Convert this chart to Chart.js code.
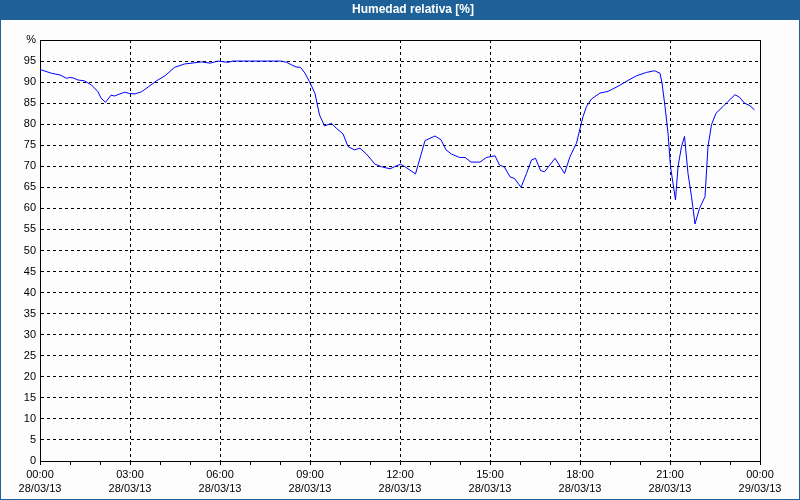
<!DOCTYPE html>
<html>
<head>
<meta charset="utf-8">
<script src="https://cdn.jsdelivr.net/npm/chart.js@4/dist/chart.umd.min.js"></script>
<style>
  html, body { margin: 0; padding: 0; background: #fcfdfc; }
  #wrap { position: relative; width: 800px; height: 500px; }
  canvas { display: block; }
</style>
</head>
<body>
<div id="wrap"><canvas id="c" width="800" height="500"></canvas></div>
<script>
// ---- data ----
const chartTitle = 'Humedad relativa [%]';
const times = ['00:00','00:23','00:40','00:53','00:59','01:06','01:16','01:29','01:43','01:56',
  '02:02','02:11','02:22','02:29','02:40','02:49','02:59','03:10','03:23','03:36',
  '03:53','04:10','04:29','04:49','05:10','05:23','05:40','05:56','06:16','06:26',
  '08:02','08:13','08:23','08:32','08:41','08:50','08:59','09:10','09:14','09:19',
  '09:29','09:43','09:53','10:06','10:16','10:29','10:40','10:53','11:10','11:23',
  '11:40','11:49','12:01','12:10','12:31','12:50','13:10','13:22','13:32','13:43',
  '13:59','14:10','14:22','14:40','14:53','15:10','15:19','15:29','15:40','15:49',
  '16:02','16:13','16:23','16:31','16:41','16:49','17:10','17:29','17:40','17:53',
  '18:02','18:06','18:13','18:23','18:40','18:56','19:16','19:36','19:53','20:13',
  '20:29','20:40','20:44','20:50','20:56','21:01','21:06','21:11','21:16','21:23',
  '21:29','21:36','21:43','21:50','21:59','22:10','22:16','22:23','22:32','22:46',
  '22:56','23:10','23:19','23:29','23:40','23:49'];
const humidity = [93.0,92.1,91.7,90.9,91.1,91.0,90.5,90.3,89.3,87.7,
  86.2,85.2,86.9,86.7,87.2,87.6,87.3,87.2,87.7,88.8,
  90.3,91.5,93.5,94.3,94.6,94.8,94.5,95.0,94.7,95.0,
  95.0,94.7,94.1,93.6,93.5,92.1,90.1,87.3,85.0,82.2,
  79.6,80.2,79.0,77.7,74.7,73.9,74.3,72.9,70.5,69.9,
  69.4,69.9,70.5,69.9,68.2,76.1,77.2,76.3,73.9,72.9,
  72.1,72.1,71.0,71.0,72.1,72.5,70.3,69.8,67.5,67.1,
  65.0,68.3,71.5,71.9,69.0,68.7,71.9,68.3,72.3,75.5,
  79.9,81.8,84.2,86.0,87.4,87.8,89.0,90.4,91.5,92.3,
  92.7,92.1,89.8,84.2,77.9,69.9,66.0,62.0,69.9,74.7,
  77.1,68.3,62.8,56.3,60.0,62.8,74.7,79.9,82.6,84.2,
  85.4,87.0,86.4,85.0,84.4,83.4];
const xTickTimes = ['00:00','03:00','06:00','09:00','12:00','15:00','18:00','21:00','00:00'];
const xTickDates = ['28/03/13','28/03/13','28/03/13','28/03/13','28/03/13','28/03/13','28/03/13','28/03/13','29/03/13'];
const yUnitLabel = '%';

// ---- build ----
const toHours = s => { const p = s.split(':'); return +p[0] + (+p[1]) / 60; };
const points = times.map((t, i) => ({ x: toHours(t), y: humidity[i] }));

const BLUE = '#1d6198';
const BG = '#fcfdfc';
const FONT = '"Liberation Sans", Arial, sans-serif';

const framePlugin = {
  id: 'frame',
  beforeDraw(chart) {
    const ctx = chart.ctx;
    ctx.save();
    ctx.fillStyle = BG;
    ctx.fillRect(0, 0, chart.width, chart.height);
    ctx.fillStyle = BLUE;
    ctx.fillRect(0, 0, chart.width, 20);
    ctx.fillRect(0, 0, 1, chart.height);
    ctx.fillRect(chart.width - 1, 0, 1, chart.height);
    ctx.fillRect(0, chart.height - 1, chart.width, 1);
    ctx.restore();
  },
  afterDraw(chart) {
    const a = chart.chartArea;
    const ctx = chart.ctx;
    ctx.save();
    ctx.strokeStyle = '#000';
    ctx.lineWidth = 1;
    ctx.beginPath();
    ctx.moveTo(Math.round(a.left), Math.round(a.top) + 0.5);
    ctx.lineTo(Math.round(a.right) + 1, Math.round(a.top) + 0.5);
    ctx.stroke();
    ctx.restore();
  }
};

new Chart(document.getElementById('c'), {
  type: 'line',
  data: {
    datasets: [{
      label: chartTitle,
      data: points,
      borderColor: '#0000ff',
      borderWidth: 1,
      pointRadius: 0,
      tension: 0,
      fill: false
    }]
  },
  plugins: [framePlugin],
  options: {
    responsive: false,
    animation: false,
    layout: { padding: { left: 0, right: -26, top: 0, bottom: 0 } },
    plugins: {
      legend: { display: false },
      tooltip: { enabled: false },
      title: {
        display: true,
        text: chartTitle,
        color: '#ffffff',
        font: { family: FONT, size: 12, weight: 'bold', lineHeight: '14px' },
        padding: { top: 3, bottom: 23 }
      }
    },
    scales: {
      x: {
        type: 'linear',
        min: 0,
        max: 24,
        afterFit: s => { s.height = 39; },
        ticks: {
          stepSize: 1,
          autoSkip: false,
          maxRotation: 0,
          padding: 3,
          color: '#000',
          font: { family: FONT, size: 11, lineHeight: '14px' },
          callback: v => (v % 3 === 0) ? [xTickTimes[v / 3], xTickDates[v / 3]] : ''
        },
        grid: {
          color: c => (c.tick && c.tick.value % 3 === 0) ? '#000' : 'rgba(0,0,0,0)',
          tickColor: '#000',
          tickLength: 4,
          lineWidth: 1
        },
        border: { display: true, color: '#000', width: 1, dash: [3, 3] }
      },
      y: {
        type: 'linear',
        min: 0,
        max: 100,
        afterFit: s => { s.width = 40; },
        ticks: {
          stepSize: 5,
          padding: 4,
          color: '#000',
          font: { family: FONT, size: 11 },
          callback: v => v === 100 ? yUnitLabel : v
        },
        grid: {
          drawTicks: false,
          color: c => (c.tick && c.tick.value === 100) ? 'rgba(0,0,0,0)' : '#000',
          lineWidth: 1
        },
        border: { display: true, color: '#000', width: 1, dash: [3, 3] }
      },
      y2: {
        type: 'linear',
        position: 'right',
        min: 0,
        max: 100,
        afterFit: s => { s.width = 66; },
        ticks: { display: false },
        grid: { display: false, drawTicks: false },
        border: { display: true, color: '#000', width: 1 }
      }
    }
  }
});
</script>
</body>
</html>
